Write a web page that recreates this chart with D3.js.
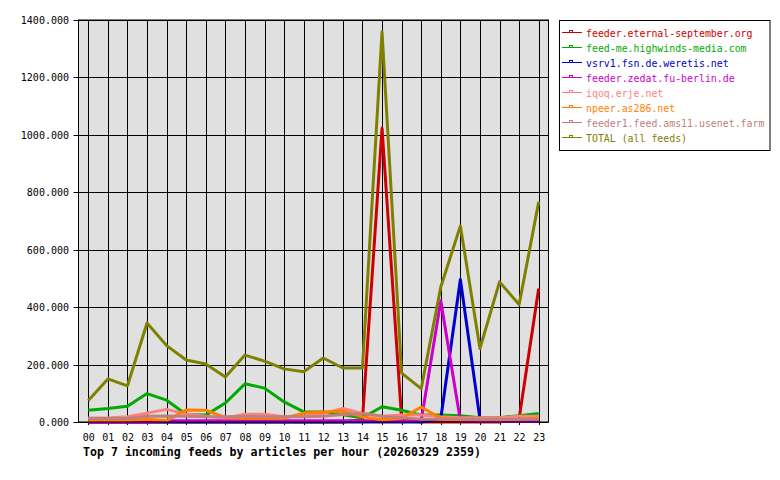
<!DOCTYPE html>
<html>
<head>
<meta charset="utf-8">
<script src="https://cdn.jsdelivr.net/npm/d3@7"></script>
<style>
body { margin: 0; background: #fff; }
text { font-family: "DejaVu Sans Mono", monospace; }
</style>
</head>
<body>
<script>
var hours = ['00','01','02','03','04','05','06','07','08','09','10','11',
             '12','13','14','15','16','17','18','19','20','21','22','23'];
var yTicks = [0, 200, 400, 600, 800, 1000, 1200, 1400];

var feedNames = ['feeder.eternal-september.org', 'feed-me.highwinds-media.com',
  'vsrv1.fsn.de.weretis.net', 'feeder.zedat.fu-berlin.de', 'iqoq.erje.net',
  'npeer.as286.net', 'feeder1.feed.ams11.usenet.farm', 'TOTAL (all feeds)'];
var feedColors = ['#cc0000', '#00aa00', '#0000cc', '#cc00cc', '#ff8080',
  '#ff8000', '#c08080', '#808000'];

var eternal  = [0, 0, 0, 0, 0, 0, 0, 0, 0, 0, 0, 0, 0, 0, 8, 1023, 10, 0, 0, 0, 0, 0, 12, 465];
var highwinds = [41, 47, 55, 99, 76, 26, 24, 66, 133, 118, 70, 35, 35, 25, 15, 53, 41, 24, 24, 22, 15, 15, 22, 30];
var weretis  = [0, 0, 0, 0, 0, 0, 0, 0, 0, 0, 0, 0, 0, 0, 0, 0, 0, 0, 12, 496, 10, 12, 5, 5];
var zedat    = [0, 0, 0, 0, 4, 4, 4, 4, 4, 4, 4, 4, 4, 4, 4, 4, 4, 4, 422, 4, 2, 2, 2, 2];
var iqoq     = [14, 14, 18, 31, 44, 28, 20, 14, 27, 27, 18, 20, 30, 47, 30, 20, 24, 24, 18, 15, 15, 15, 20, 20];
var npeer    = [5, 5, 5, 10, 5, 42, 41, 16, 13, 13, 13, 31, 35, 38, 18, 8, 13, 52, 13, 10, 8, 8, 10, 14];
var ams11    = [12, 12, 12, 20, 21, 20, 18, 18, 20, 18, 18, 18, 20, 26, 30, 20, 15, 10, 10, 10, 10, 10, 10, 10];
var total    = [75, 150, 126, 345, 266, 216, 202, 157, 233, 212, 185, 175, 223, 188, 188, 1359, 170, 116, 470, 683, 256, 488, 409, 767];

var series = [eternal, highwinds, weretis, zedat, iqoq, npeer, ams11, total];

var width = 780, height = 480;
var plotLeft = 78.5, plotRight = 548.5, plotTop = 20, plotBottom = 422;

var svg = d3.select('body')
  .append('svg')
  .attr('width', width)
  .attr('height', height);

var x = d3.scalePoint()
  .domain(hours)
  .range([plotLeft, plotRight])
  .padding(0.5);

var y = d3.scaleLinear()
  .domain([0, 1400])
  .range([plotBottom, plotTop]);

// plot background
svg.append('rect')
  .attr('x', plotLeft).attr('y', plotTop)
  .attr('width', plotRight - plotLeft).attr('height', plotBottom - plotTop)
  .attr('fill', '#e0e0e0');

// grid
svg.append('g')
  .selectAll('line')
  .data(hours)
  .enter()
  .append('line')
  .attr('x1', function(d) { return Math.round(x(d)) + 0.5; })
  .attr('x2', function(d) { return Math.round(x(d)) + 0.5; })
  .attr('y1', plotTop).attr('y2', plotBottom + 3)
  .attr('stroke', '#000').attr('stroke-width', 1);

svg.append('g')
  .selectAll('line')
  .data(yTicks)
  .enter()
  .append('line')
  .attr('x1', plotLeft - 5).attr('x2', plotRight)
  .attr('y1', function(d) { return Math.round(y(d)) + 0.5; })
  .attr('y2', function(d) { return Math.round(y(d)) + 0.5; })
  .attr('stroke', '#000').attr('stroke-width', 1);

// axes labels
svg.append('g')
  .selectAll('text')
  .data(yTicks)
  .enter()
  .append('text')
  .attr('x', 69)
  .attr('y', function(d) { return y(d) + 4; })
  .attr('text-anchor', 'end')
  .attr('font-size', '10px')
  .text(function(d) { return d3.format('.3f')(d); });

svg.append('g')
  .selectAll('text')
  .data(hours)
  .enter()
  .append('text')
  .attr('x', function(d) { return x(d) + 0.5; })
  .attr('y', 441)
  .attr('text-anchor', 'middle')
  .attr('font-size', '10px')
  .text(function(d) { return d; });

// lines
var line = d3.line()
  .x(function(d, i) { return x(hours[i]); })
  .y(function(d) { return y(d); });

svg.append('g')
  .selectAll('path')
  .data(series)
  .enter()
  .append('path')
  .attr('d', line)
  .attr('fill', 'none')
  .attr('stroke', function(d, i) { return feedColors[i]; })
  .attr('stroke-width', 3)
  .attr('stroke-linejoin', 'round');

// frame
svg.append('rect')
  .attr('x', plotLeft).attr('y', plotTop)
  .attr('width', plotRight - plotLeft).attr('height', plotBottom - plotTop)
  .attr('fill', 'none')
  .attr('stroke', '#000').attr('stroke-width', 1);

// title
svg.append('text')
  .attr('x', 83)
  .attr('y', 456)
  .attr('font-size', '11.6px')
  .attr('font-weight', 'bold')
  .text('Top 7 incoming feeds by articles per hour (20260329 2359)');

// legend
var legend = svg.append('g');
legend.append('rect')
  .attr('x', 559.5).attr('y', 20.5)
  .attr('width', 210.5).attr('height', 130)
  .attr('fill', '#fff')
  .attr('stroke', '#000');

var item = legend.selectAll('.item')
  .data(feedNames)
  .enter()
  .append('g')
  .attr('class', 'item')
  .attr('transform', function(d, i) { return 'translate(0,' + (32.5 + i * 15) + ')'; });

item.append('line')
  .attr('x1', 562).attr('x2', 582)
  .attr('y1', 0).attr('y2', 0)
  .attr('stroke', function(d, i) { return feedColors[i]; })
  .attr('stroke-width', 1);

item.append('rect')
  .attr('x', 569.5).attr('y', -2)
  .attr('width', 3).attr('height', 2)
  .attr('fill', 'none')
  .attr('stroke', function(d, i) { return feedColors[i]; });

item.append('text')
  .attr('x', 586)
  .attr('y', 4)
  .attr('font-size', '9.9px')
  .attr('fill', function(d, i) { return feedColors[i]; })
  .text(function(d) { return d; });
</script>
</body>
</html>
